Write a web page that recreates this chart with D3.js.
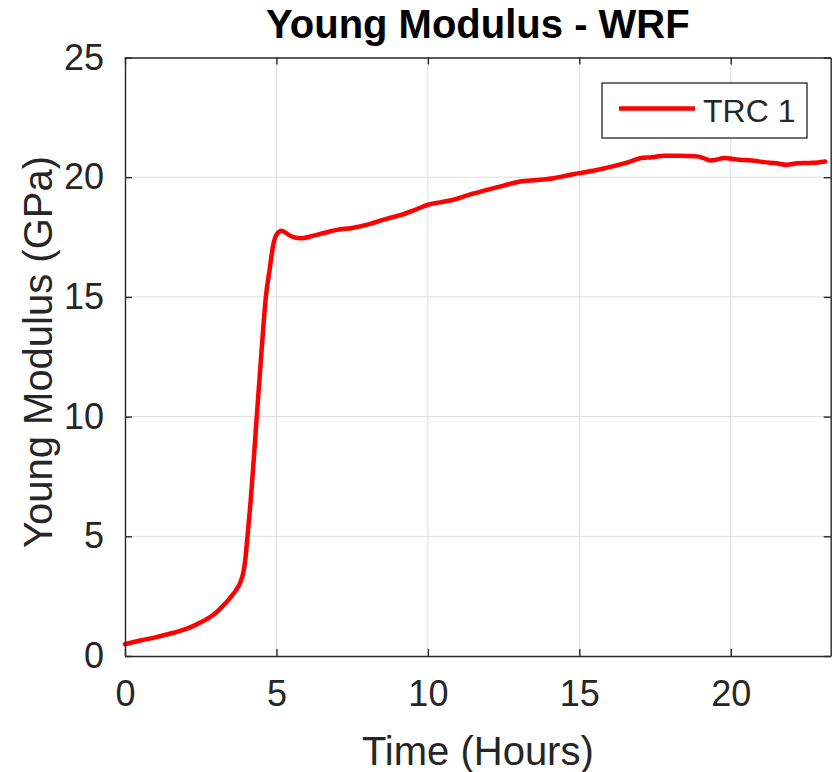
<!DOCTYPE html>
<html>
<head>
<meta charset="utf-8">
<script src="https://cdn.jsdelivr.net/npm/d3@7"></script>
<style>
  html, body { margin: 0; padding: 0; background: #fff; }
  svg { display: block; }
</style>
</head>
<body>
<svg id="chart" width="833" height="772"></svg>
<script>
const timeHours = [0, 0.5, 1, 1.6, 2, 2.3, 2.6, 2.85, 3.05, 3.3, 3.47, 3.65, 3.8, 3.9, 3.97, 4.03, 4.08, 4.15, 4.25, 4.35, 4.5, 4.65, 4.77, 4.9, 5.0, 5.17, 5.4, 5.6, 5.83, 6.2, 6.6, 7.0, 7.5, 8.1, 8.6, 9.2, 9.6, 10, 10.4, 10.85, 11.4, 11.95, 12.5, 13.05, 13.6, 14.15, 14.6, 15, 15.5, 16.1, 16.6, 17.05, 17.4, 17.8, 18.3, 18.9, 19.1, 19.32, 19.55, 19.76, 20.3, 20.7, 21.1, 21.5, 21.85, 22.2, 22.7, 23.12];
const youngModulus = [0.49, 0.65, 0.78, 0.97, 1.12, 1.28, 1.47, 1.66, 1.86, 2.18, 2.43, 2.72, 3.05, 3.45, 4.0, 4.8, 5.5, 6.5, 8.2, 10.0, 12.6, 15.0, 16.1, 17.2, 17.6, 17.76, 17.6, 17.48, 17.45, 17.55, 17.68, 17.8, 17.88, 18.05, 18.25, 18.46, 18.65, 18.85, 18.95, 19.06, 19.28, 19.47, 19.65, 19.82, 19.88, 19.96, 20.07, 20.17, 20.28, 20.45, 20.62, 20.8, 20.83, 20.9, 20.9, 20.87, 20.8, 20.7, 20.74, 20.8, 20.73, 20.7, 20.63, 20.58, 20.52, 20.58, 20.6, 20.66];
const xTicks = [0, 5, 10, 15, 20];
const yTicks = [0, 5, 10, 15, 20, 25];
const xDomain = [0, 23.3];
const yDomain = [0, 25];
const seriesName = "TRC 1";
const titleText = "Young Modulus - WRF";
const xLabelText = "Time (Hours)";
const yLabelText = "Young Modulus (GPa)";

const svg = d3.select("#chart");
const pLeft = 125, pRight = 830.7, pTop = 57.5, pBottom = 656;
const font = "'Liberation Sans', Arial, Helvetica, sans-serif";
const axisColor = "#262626";

const x = d3.scaleLinear().domain(xDomain).range([pLeft, pRight]);
const y = d3.scaleLinear().domain(yDomain).range([pBottom, pTop]);

// grid
const grid = svg.append("g").attr("stroke", "#dedede").attr("stroke-width", 1);
xTicks.forEach(t => {
  if (t > xDomain[0] && t < xDomain[1])
    grid.append("line").attr("x1", x(t)).attr("x2", x(t)).attr("y1", pTop).attr("y2", pBottom);
});
yTicks.forEach(t => {
  if (t > yDomain[0] && t < yDomain[1])
    grid.append("line").attr("x1", pLeft).attr("x2", pRight).attr("y1", y(t)).attr("y2", y(t));
});

// data line
const data = timeHours.map((t, i) => [t, youngModulus[i]]);
svg.append("path")
  .datum(data)
  .attr("fill", "none")
  .attr("stroke", "#ff0000")
  .attr("stroke-width", 4.5)
  .attr("stroke-linejoin", "round")
  .attr("stroke-linecap", "round")
  .attr("d", d3.line().x(d => x(d[0])).y(d => y(d[1])).curve(d3.curveMonotoneX));

// axes using d3 axes (inward ticks)
const tickLen = 7;
const xAxisB = d3.axisBottom(x).tickValues(xTicks).tickSizeInner(-tickLen).tickSizeOuter(0).tickPadding(tickLen + 17).tickFormat(d3.format("d"));
const xAxisT = d3.axisTop(x).tickValues(xTicks).tickSizeInner(-tickLen).tickSizeOuter(0).tickFormat("");
const yAxisL = d3.axisLeft(y).tickValues(yTicks).tickSizeInner(-tickLen).tickSizeOuter(0).tickPadding(tickLen + 14).tickFormat(d3.format("d"));
const yAxisR = d3.axisRight(y).tickValues(yTicks).tickSizeInner(-tickLen).tickSizeOuter(0).tickFormat("");

function styleAxis(g) {
  g.select(".domain").attr("stroke", axisColor).attr("stroke-width", 1.4);
  g.selectAll(".tick line").attr("stroke", axisColor).attr("stroke-width", 1.4);
  g.selectAll(".tick text").attr("fill", axisColor).style("font-family", font).style("font-size", "36px");
}
svg.append("g").attr("transform", `translate(0,${pBottom})`).call(xAxisB).call(styleAxis)
  .selectAll(".tick text").attr("dy", "0.71em");
svg.append("g").attr("transform", `translate(0,${pTop})`).call(xAxisT).call(styleAxis);
svg.append("g").attr("transform", `translate(${pLeft},0)`).call(yAxisL).call(styleAxis);
svg.append("g").attr("transform", `translate(${pRight},0)`).call(yAxisR).call(styleAxis);

// title
svg.append("text")
  .attr("x", (pLeft + pRight) / 2).attr("y", 38)
  .attr("text-anchor", "middle")
  .style("font-family", font).style("font-size", "40px").style("font-weight", "bold")
  .attr("fill", "#000")
  .text(titleText);

// x label
svg.append("text")
  .attr("x", (pLeft + pRight) / 2).attr("y", 765)
  .attr("text-anchor", "middle")
  .style("font-family", font).style("font-size", "40px")
  .attr("fill", axisColor)
  .text(xLabelText);

// y label
svg.append("text")
  .attr("transform", `translate(52,352) rotate(-90)`)
  .attr("text-anchor", "middle")
  .style("font-family", font).style("font-size", "40px")
  .attr("fill", axisColor)
  .text(yLabelText);

// legend
const leg = svg.append("g");
leg.append("rect")
  .attr("x", 602).attr("y", 83).attr("width", 205).attr("height", 55)
  .attr("fill", "#fff").attr("stroke", axisColor).attr("stroke-width", 1.3);
leg.append("line")
  .attr("x1", 619).attr("x2", 695).attr("y1", 108.5).attr("y2", 108.5)
  .attr("stroke", "#ff0000").attr("stroke-width", 4.5);
leg.append("text")
  .attr("x", 703).attr("y", 121.5)
  .style("font-family", font).style("font-size", "32px")
  .attr("fill", axisColor)
  .text(seriesName);
</script>
</body>
</html>
